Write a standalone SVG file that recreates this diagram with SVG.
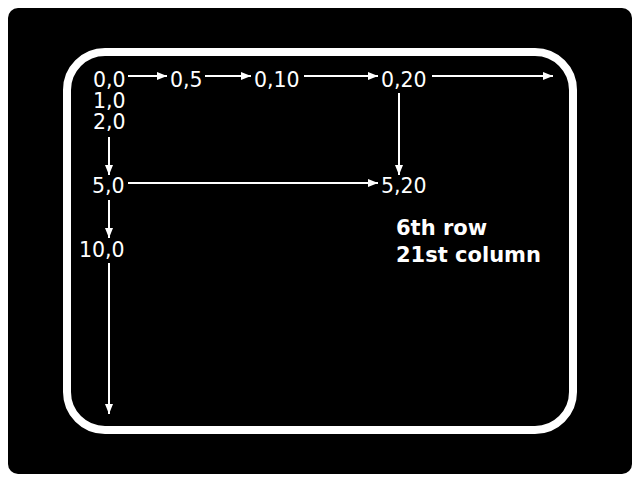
<svg xmlns="http://www.w3.org/2000/svg" width="640" height="482" viewBox="0 0 640 482">
<defs>
<style>
.t{font-family:"DejaVu Sans",sans-serif;font-size:20.5px;fill:#fff}
.b{font-family:"DejaVu Sans",sans-serif;font-size:21px;font-weight:bold;fill:#fff}
.c line{stroke:#fff;stroke-width:2;marker-end:url(#ah)}
</style>
<marker id="ah" markerUnits="userSpaceOnUse" markerWidth="10" markerHeight="8" refX="10" refY="4" orient="auto">
<path d="M0,0 L10,4 L0,8 z" fill="#fff"/>
</marker>
</defs>
<rect x="0" y="0" width="640" height="482" fill="#fff"/>
<rect x="8" y="8" width="624" height="466" rx="10" fill="#000"/>
<rect x="67" y="52" width="506" height="378" rx="38" fill="none" stroke="#fff" stroke-width="8"/>
<g id="n00"><text class="t" x="93" y="87">0,0</text></g>
<g id="n10"><text class="t" x="93" y="108">1,0</text></g>
<g id="n20"><text class="t" x="93" y="129">2,0</text></g>
<g id="n05"><text class="t" x="170" y="87">0,5</text></g>
<g id="n010"><text class="t" x="254" y="87">0,10</text></g>
<g id="n020"><text class="t" x="381" y="87">0,20</text></g>
<g id="n50"><text class="t" x="92" y="193">5,0</text></g>
<g id="n520"><text class="t" x="381" y="193">5,20</text></g>
<g id="n100"><text class="t" x="79" y="257">10,0</text></g>
<g id="note"><text class="b" x="396" y="235">6th row</text><text class="b" x="396" y="262">21st column</text></g>
<g class="c" id="connectors">
<line x1="128" y1="76" x2="167" y2="76"/>
<line x1="205" y1="76" x2="251" y2="76"/>
<line x1="304" y1="76" x2="378" y2="76"/>
<line x1="432" y1="76" x2="553" y2="76"/>
<line x1="399" y1="93" x2="399" y2="175"/>
<line x1="109" y1="137" x2="109" y2="175"/>
<line x1="128" y1="183" x2="378" y2="183"/>
<line x1="109" y1="200" x2="109" y2="238"/>
<line x1="109" y1="263" x2="109" y2="414"/>
</g>
</svg>
